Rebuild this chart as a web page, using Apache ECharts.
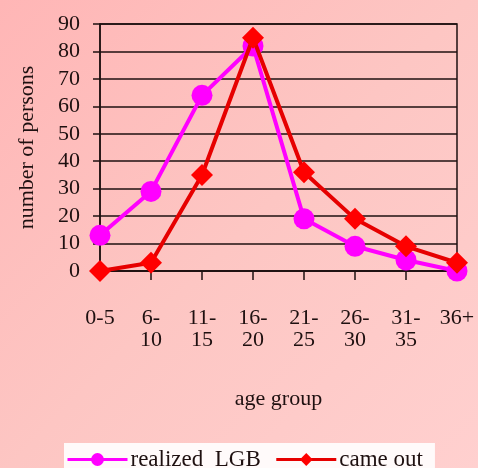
<!DOCTYPE html>
<html>
<head>
<meta charset="utf-8">
<script src="https://cdn.jsdelivr.net/npm/echarts@6/dist/echarts.min.js"></script>
<style>
  html, body { margin: 0; padding: 0; }
  #chart { width: 478px; height: 468px; }
</style>
</head>
<body>
<div id="chart"></div>
<script>
// Age groups (wrapped onto two lines like the original category labels)
const ageGroups = ['0-5', '6-\n10', '11-\n15', '16-\n20', '21-\n25', '26-\n30', '31-\n35', '36+'];
// Number of persons per age group
const realizedLGB = [13, 29, 64, 82, 19, 9, 4, 0];
const cameOut = [0, 3, 35, 85, 36, 19, 9, 3];
const yTicks = { min: 0, max: 90, interval: 10 };

const FONT = '"Liberation Serif", "Times New Roman", serif';
const INK = '#1e1010';

const chart = echarts.init(document.getElementById('chart'), null, { renderer: 'canvas' });

chart.setOption({
  backgroundColor: {
    type: 'linear', x: 0, y: 0, x2: 1, y2: 1,
    colorStops: [
      { offset: 0, color: '#ffb6b6' },
      { offset: 0.5, color: '#fdc6c3' },
      { offset: 1, color: '#ffd0cf' }
    ]
  },
  animation: false,
  textStyle: { fontFamily: FONT, color: INK },
  grid: { left: 100, right: 21, top: 24, bottom: 197, show: true, borderColor: INK, borderWidth: 1.5, backgroundColor: 'transparent' },
  xAxis: {
    type: 'category',
    data: ageGroups,
    boundaryGap: false,
    name: 'age group',
    nameLocation: 'middle',
    nameGap: 117,
    nameTextStyle: { fontFamily: FONT, fontSize: 22, color: INK },
    axisLine: { lineStyle: { color: INK, width: 1.5 } },
    axisTick: { show: true, inside: false, length: 9, alignWithLabel: true, lineStyle: { color: INK, width: 1.5 } },
    axisLabel: { fontFamily: FONT, fontSize: 22, color: INK, margin: 36, lineHeight: 22, interval: 0 },
    splitLine: { show: false }
  },
  yAxis: {
    type: 'value',
    min: yTicks.min, max: yTicks.max, interval: yTicks.interval,
    name: 'number of persons',
    nameLocation: 'middle',
    nameGap: 62,
    nameRotate: 90,
    nameTextStyle: { fontFamily: FONT, fontSize: 22, color: INK },
    axisLine: { show: true, lineStyle: { color: INK, width: 1.5 } },
    axisTick: { show: true, inside: false, length: 7, lineStyle: { color: INK, width: 1.5 } },
    axisLabel: { fontFamily: FONT, fontSize: 22, color: INK, margin: 20 },
    splitLine: { show: true, lineStyle: { color: INK, width: 1.5 } }
  },
  legend: {
    left: 64, top: 443,
    backgroundColor: '#fffafa',
    padding: [5, 12, 8, 2],
    itemGap: 14,
    itemWidth: 60,
    itemHeight: 16,
    lineStyle: { width: 3 },
    textStyle: { fontFamily: FONT, fontSize: 23, color: INK, padding: [0, 0, 0, -2] },
    data: ['realized  LGB', 'came out']
  },
  series: [
    {
      name: 'realized  LGB',
      type: 'line',
      data: realizedLGB,
      symbol: 'circle',
      symbolSize: 21,
      lineStyle: { color: '#ff00ff', width: 4 },
      itemStyle: { color: '#ff00ff' },
      z: 2
    },
    {
      name: 'came out',
      type: 'line',
      data: cameOut,
      symbol: 'diamond',
      symbolSize: 22,
      lineStyle: { color: '#e60000', width: 4 },
      itemStyle: { color: '#ff0000' },
      z: 3
    }
  ]
});
</script>
</body>
</html>
